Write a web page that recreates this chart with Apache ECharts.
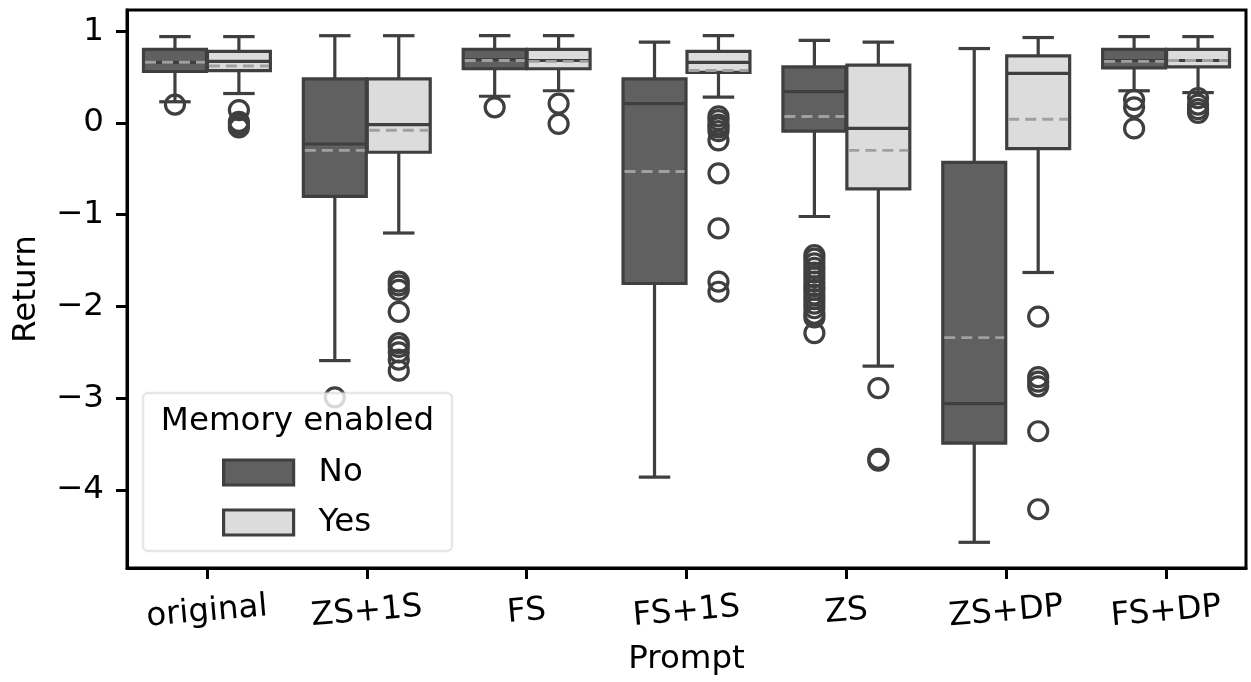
<!DOCTYPE html>
<html>
<head>
<meta charset="utf-8">
<script src="https://cdn.jsdelivr.net/npm/echarts@6/dist/echarts.min.js"></script>
<style>
  html, body { margin: 0; padding: 0; background: #fff; }
  #chart { width: 1251px; height: 682px; }
</style>
</head>
<body>
<div id="chart"></div>
<script>
// Prompt variants on the x axis
const categories = ['original', 'ZS+1S', 'FS', 'FS+1S', 'ZS', 'ZS+DP', 'FS+DP'];

// Box statistics per prompt: [lower whisker, Q1, median, Q3, upper whisker]
const noBoxes = [
  [0.23, 0.56, 0.66, 0.80, 0.94],
  [-2.59, -0.80, -0.23, 0.48, 0.95],
  [0.29, 0.59, 0.69, 0.80, 0.95],
  [-3.86, -1.75, 0.21, 0.48, 0.88],
  [-1.02, -0.09, 0.34, 0.61, 0.90],
  [-4.57, -3.49, -3.06, -0.43, 0.81],
  [0.35, 0.60, 0.68, 0.80, 0.94]
];
const yesBoxes = [
  [0.32, 0.57, 0.67, 0.78, 0.94],
  [-1.20, -0.32, -0.02, 0.48, 0.95],
  [0.35, 0.59, 0.68, 0.80, 0.95],
  [0.28, 0.55, 0.66, 0.78, 0.95],
  [-2.65, -0.72, -0.06, 0.63, 0.88],
  [-1.63, -0.28, 0.54, 0.73, 0.93],
  [0.33, 0.61, 0.68, 0.80, 0.94]
];

// Mean return per prompt (dashed line)
const noMeans = [0.66, -0.30, 0.68, -0.53, 0.07, -2.34, 0.67];
const yesMeans = [0.62, -0.08, 0.67, 0.57, -0.30, 0.04, 0.68];

// Outlying returns per prompt
const noOutliers = [
  [0.20],
  [-2.99],
  [0.17],
  [],
  [-1.44, -1.48, -1.53, -1.58, -1.63, -1.68, -1.73, -1.78, -1.82, -1.87, -1.92, -1.97, -2.02, -2.08, -2.12, -2.29],
  [],
  [0.25, 0.17, -0.06]
];
const yesOutliers = [
  [0.14, 0.01, -0.02, -0.05],
  [-1.73, -1.77, -1.82, -2.06, -2.40, -2.44, -2.50, -2.58, -2.70],
  [0.21, -0.01],
  [0.07, 0.03, -0.02, -0.05, -0.09, -0.19, -0.55, -1.15, -1.73, -1.84],
  [-2.89, -3.66, -3.68],
  [-2.11, -2.77, -2.82, -2.87, -3.36, -4.21],
  [0.27, 0.20, 0.15, 0.11]
];

const yTicks = [-4, -3, -2, -1, 0, 1];

const FONT = 'DejaVu Sans';
const FONT_SIZE = 32.5;
const EDGE = '#3f3f3f';
const MEAN = '#a0a0a0';
const NO_FILL = '#606060';
const YES_FILL = '#dcdcdc';
const LW = 3.2;
const AXIS_LW = 3;

function boxData(boxes, means) {
  return boxes.map((b, i) => [i].concat(b, [means[i]]));
}

function outlierData(lists) {
  const out = [];
  lists.forEach((list, i) => list.forEach(v => out.push([i, v])));
  return out;
}

// Draws one box with whiskers, caps, median and mean; side = -1 left, +1 right of the category
function makeBoxRenderer(side, fill) {
  return function (params, api) {
    const cat = api.value(0);
    const band = api.size([1, 0])[0];
    const w = band * 0.4 - 1;
    const cx = api.coord([cat, 0])[0] + side * band * 0.2;
    const y = d => api.coord([cat, api.value(d)])[1];
    const yLo = y(1), yQ1 = y(2), yMed = y(3), yQ3 = y(4), yHi = y(5), yMean = y(6);
    const line = { stroke: EDGE, lineWidth: LW };
    const capHalf = w / 4;
    const x0 = cx - w / 2, x1 = cx + w / 2;
    return {
      type: 'group',
      children: [
        { type: 'line', shape: { x1: cx, y1: yQ3, x2: cx, y2: yHi }, style: line },
        { type: 'line', shape: { x1: cx, y1: yQ1, x2: cx, y2: yLo }, style: line },
        { type: 'line', shape: { x1: cx - capHalf, y1: yHi, x2: cx + capHalf, y2: yHi }, style: line },
        { type: 'line', shape: { x1: cx - capHalf, y1: yLo, x2: cx + capHalf, y2: yLo }, style: line },
        { type: 'rect', shape: { x: x0, y: yQ3, width: w, height: yQ1 - yQ3 }, style: { fill: fill, stroke: EDGE, lineWidth: LW } },
        { type: 'line', shape: { x1: x0, y1: yMed, x2: x1, y2: yMed }, style: line },
        { type: 'line', shape: { x1: x0 + 1.5, y1: yMean, x2: x1 - 1.5, y2: yMean }, style: { stroke: MEAN, lineWidth: 2.9, lineDash: [11, 6] } }
      ]
    };
  };
}

// Hollow circle for each outlier, shifted to its box's side
function makeOutlierRenderer(side) {
  return function (params, api) {
    const cat = api.value(0);
    const band = api.size([1, 0])[0];
    const p = api.coord([cat, api.value(1)]);
    return {
      type: 'circle',
      shape: { cx: p[0] + side * band * 0.2, cy: p[1], r: 9.5 },
      style: { fill: 'none', stroke: EDGE, lineWidth: LW }
    };
  };
}

const fmtY = v => (v < 0 ? '\u2212' + Math.abs(v) : String(v));

const chart = echarts.init(document.getElementById('chart'), null, { renderer: 'canvas' });

chart.setOption({
  animation: false,
  backgroundColor: '#fff',
  textStyle: { fontFamily: FONT },
  grid: {
    left: 127, right: 5, top: 10, bottom: 114,
    show: true, borderColor: '#000', borderWidth: AXIS_LW, backgroundColor: 'transparent'
  },
  xAxis: {
    type: 'category',
    data: categories,
    boundaryGap: true,
    name: 'Prompt',
    nameLocation: 'middle',
    nameGap: 92,
    nameTextStyle: { fontSize: FONT_SIZE, color: '#000', fontFamily: FONT, verticalAlign: 'middle', align: 'center' },
    axisLine: { show: true, onZero: false, lineStyle: { color: '#000', width: AXIS_LW } },
    axisTick: { show: true, alignWithLabel: true, length: 11, lineStyle: { color: '#000', width: AXIS_LW } },
    axisLabel: {
      rotate: 5, margin: 44, align: 'center', verticalAlign: 'middle',
      fontSize: FONT_SIZE, color: '#000', fontFamily: FONT
    },
    splitLine: { show: false }
  },
  yAxis: {
    type: 'value',
    min: -4.85,
    max: 1.23,
    name: 'Return',
    nameLocation: 'middle',
    nameGap: 100,
    nameTextStyle: { fontSize: FONT_SIZE, color: '#000', fontFamily: FONT, verticalAlign: 'middle', align: 'center' },
    axisLine: { show: true, onZero: false, lineStyle: { color: '#000', width: AXIS_LW } },
    axisTick: { show: true, length: 11, customValues: yTicks, lineStyle: { color: '#000', width: AXIS_LW } },
    axisLabel: { customValues: yTicks, formatter: fmtY, margin: 23, fontSize: FONT_SIZE, color: '#000', fontFamily: FONT },
    splitLine: { show: false }
  },
  legend: {
    orient: 'vertical',
    left: 222,
    top: 456,
    padding: 0,
    itemWidth: 70,
    itemHeight: 25,
    itemGap: 17,
    icon: 'rect',
    selectedMode: false,
    z: 20,
    textStyle: { fontSize: FONT_SIZE, color: '#000', fontFamily: FONT, padding: [0, 0, 0, 20] },
    data: [
      { name: 'No', itemStyle: { color: NO_FILL, borderColor: EDGE, borderWidth: LW } },
      { name: 'Yes', itemStyle: { color: YES_FILL, borderColor: EDGE, borderWidth: LW } }
    ]
  },
  graphic: [
    {
      type: 'rect', z: 10,
      shape: { x: 143, y: 393, width: 309, height: 158, r: 5 },
      style: { fill: 'rgba(255,255,255,0.8)', stroke: 'rgba(215,215,215,0.6)', lineWidth: 2.4 }
    },
    {
      type: 'text', z: 21, x: 297.5, y: 422,
      style: {
        text: 'Memory enabled', fill: '#000',
        font: FONT_SIZE + 'px "DejaVu Sans"', align: 'center', verticalAlign: 'middle'
      }
    }
  ],
  series: [
    {
      name: 'No', type: 'custom', z: 2,
      itemStyle: { color: NO_FILL },
      dimensions: ['cat', 'lo', 'q1', 'med', 'q3', 'hi', 'mean'],
      encode: { x: 0, y: [1, 2, 3, 4, 5, 6] },
      renderItem: makeBoxRenderer(-1, NO_FILL),
      data: boxData(noBoxes, noMeans)
    },
    {
      name: 'Yes', type: 'custom', z: 2,
      itemStyle: { color: YES_FILL },
      dimensions: ['cat', 'lo', 'q1', 'med', 'q3', 'hi', 'mean'],
      encode: { x: 0, y: [1, 2, 3, 4, 5, 6] },
      renderItem: makeBoxRenderer(1, YES_FILL),
      data: boxData(yesBoxes, yesMeans)
    },
    {
      name: 'No', type: 'custom', z: 3,
      itemStyle: { color: NO_FILL },
      encode: { x: 0, y: 1 },
      renderItem: makeOutlierRenderer(-1),
      data: outlierData(noOutliers)
    },
    {
      name: 'Yes', type: 'custom', z: 3,
      itemStyle: { color: YES_FILL },
      encode: { x: 0, y: 1 },
      renderItem: makeOutlierRenderer(1),
      data: outlierData(yesOutliers)
    }
  ]
});
</script>
</body>
</html>
